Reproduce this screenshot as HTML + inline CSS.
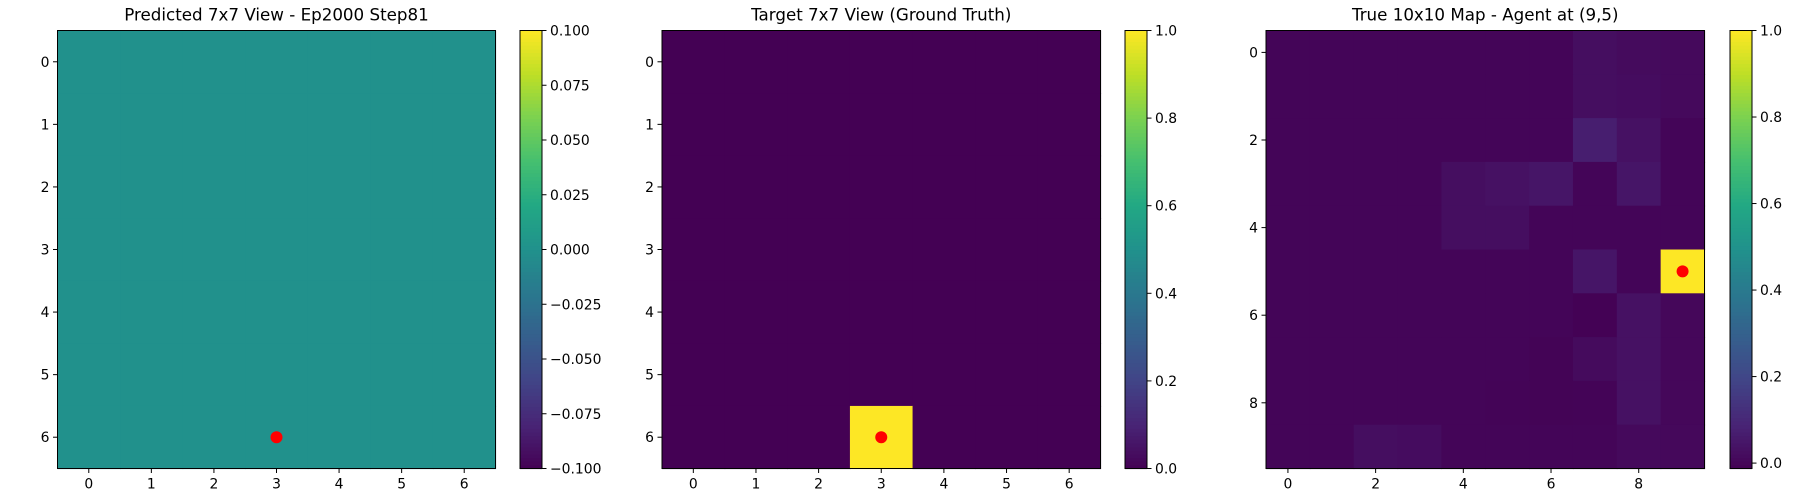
<!DOCTYPE html>
<html><head><meta charset="utf-8">
<style>
html,body{margin:0;padding:0;background:#fff;}
svg{display:block;font-family:"DejaVu Sans","Liberation Sans",sans-serif;}
</style></head>
<body>
<svg id="fig" width="1800" height="500" viewBox="0 0 1800 500" xmlns="http://www.w3.org/2000/svg"></svg>
<script>
// ---- data ----
const predGrid = [
 [0,0,0,0,0,0,0],[0,0,0,0,0,0,0],[0,0,0,0,0,0,0],[0,0,0,0,0,0,0],
 [0,0,0,0,0,0,0],[0,0,0,0,0,0,0],[0,0,0,0,0,0,0]];
const targetGrid = [
 [0,0,0,0,0,0,0],[0,0,0,0,0,0,0],[0,0,0,0,0,0,0],[0,0,0,0,0,0,0],
 [0,0,0,0,0,0,0],[0,0,0,0,0,0,0],[0,0,0,1,0,0,0]];
const trueMap = [
 [0,0,0,0,0,0,0,0.025,0.015,0.012],
 [0,0,0,0,0,0,0,0.025,0.02,0.012],
 [0,0,0,0,0,0,0,0.07,0.035,0],
 [0,0,0,0,0.025,0.035,0.045,0,0.045,0],
 [0,0,0,0,0.025,0.025,0,0,0,0],
 [0,0,0,0,0,0,0,0.045,0,1],
 [0,0,0,0,0,0,0,-0.01,0.035,0.005],
 [0,0,0,0,0,0,-0.005,0.015,0.035,0.005],
 [0,0,0,0,0,-0.003,-0.005,-0.003,0.035,0.005],
 [0,0,0.025,0.02,0,0,0,0,0.012,0.008]];
const predAgent = [3,6];
const targetAgent = [3,6];
const trueAgent = [9,5];
const predTitle = "Predicted 7x7 View - Ep2000 Step81";
const targetTitle = "Target 7x7 View (Ground Truth)";
const trueTitle = "True 10x10 Map - Agent at (9,5)";
const predCbTicks = [-0.1,-0.075,-0.05,-0.025,0,0.025,0.05,0.075,0.1];
const predCbLabels = ["\u22120.100","\u22120.075","\u22120.050","\u22120.025","0.000","0.025","0.050","0.075","0.100"];
const targetCbTicks = [0,0.2,0.4,0.6,0.8,1.0];
const targetCbLabels = ["0.0","0.2","0.4","0.6","0.8","1.0"];
const trueCbTicks = [0,0.2,0.4,0.6,0.8,1.0];
const trueCbLabels = ["0.0","0.2","0.4","0.6","0.8","1.0"];
const ticks7 = [0,1,2,3,4,5,6];
const ticks10 = [0,2,4,6,8];

// ---- helpers ----
const NS="http://www.w3.org/2000/svg";
const svg=document.getElementById('fig');
const VIR=["#440154","#482475","#414487","#355f8d","#2a788e","#21918c","#22a884","#44bf70","#7ad151","#bddf26","#fde725"];
function hex(h){return [1,3,5].map(i=>parseInt(h.substr(i,2),16));}
function viridis(t){t=Math.max(0,Math.min(1,t));const p=t*10,i=Math.min(9,Math.floor(p)),f=p-i;
 const a=hex(VIR[i]),b=hex(VIR[i+1]);return "rgb("+a.map((v,k)=>Math.round(v+(b[k]-v)*f)).join(",")+")";}
function mk(tag,attrs,parent){const e=document.createElementNS(NS,tag);for(const k in attrs)e.setAttribute(k,attrs[k]);(parent||svg).appendChild(e);return e;}

function panel(id,grid,agent,title,ax,cb,vmin,vmax,xt,cbT,cbL){
 const g=mk('g',{});
 
 
 const n=grid.length, w=ax.x1-ax.x0, h=ax.y1-ax.y0;
 const sx=v=>ax.x0+(v+0.5)/n*w, sy=v=>ax.y0+(v+0.5)/n*h;
 const cw=w/n, ch=h/n;
 grid.forEach((row,r)=>row.forEach((v,c)=>{
  const rc=mk('rect',{x:sx(c)-cw/2,y:sy(r)-ch/2,width:cw+0.6,height:ch+0.6,fill:viridis((v-vmin)/(vmax-vmin))},g);
  
  
 }));
 const dot=mk('circle',{cx:sx(agent[0]),cy:sy(agent[1]),r:6,fill:'#ff0000'},g);
 
 
 const fr=mk('rect',{x:ax.x0,y:ax.y0,width:w,height:h,fill:'none',stroke:'#000','stroke-width':1},g);
 
 
 xt.forEach(t=>{
  mk('line',{x1:sx(t),x2:sx(t),y1:ax.y1,y2:ax.y1+4.5,stroke:'#000','stroke-width':1},g);
  const tx=mk('text',{x:sx(t),y:ax.y1+20,'font-size':13.9,'text-anchor':'middle',fill:'#000'},g);tx.textContent=t;
  
  
  mk('line',{x1:ax.x0-4.5,x2:ax.x0,y1:sy(t),y2:sy(t),stroke:'#000','stroke-width':1},g);
  const ty=mk('text',{x:ax.x0-8,y:sy(t)+5,'font-size':13.9,'text-anchor':'end',fill:'#000'},g);ty.textContent=t;
  
  
 });
 const tt=mk('text',{x:(ax.x0+ax.x1)/2,y:ax.y0-10,'font-size':16.7,'text-anchor':'middle',fill:'#000'},g);tt.textContent=title;
 
 
 // colorbar
 const cbh=cb.y1-cb.y0, steps=120;
 const cy=v=>cb.y1-(v-vmin)/(vmax-vmin)*cbh;
 for(let i=0;i<steps;i++){
  mk('rect',{x:cb.x0,y:cb.y1-(i+1)*cbh/steps,width:cb.x1-cb.x0,height:cbh/steps+0.6,fill:viridis((i+0.5)/steps)},g);
 }
 const cf=mk('rect',{x:cb.x0,y:cb.y0,width:cb.x1-cb.x0,height:cbh,fill:'none',stroke:'#000','stroke-width':1},g);
 
 
 cbT.forEach((t,i)=>{
  const y=cy(t);
  mk('line',{x1:cb.x1,x2:cb.x1+4.5,y1:y,y2:y,stroke:'#000','stroke-width':1},g);
  const l=mk('text',{x:cb.x1+8,y:y+5,'font-size':13.9,fill:'#000'},g);l.textContent=cbL[i];
  
  
 });
}
panel('predicted',predGrid,predAgent,predTitle,{x0:57.5,x1:495.5,y0:30.5,y1:468.5},{x0:520,x1:542,y0:30.5,y1:468.5},-0.1,0.1,ticks7,predCbTicks,predCbLabels);
panel('target',targetGrid,targetAgent,targetTitle,{x0:662,x1:1100.5,y0:30.5,y1:468.5},{x0:1125,x1:1147,y0:30.5,y1:468.5},0,1,ticks7,targetCbTicks,targetCbLabels);
panel('true-map',trueMap,trueAgent,trueTitle,{x0:1266,x1:1704.5,y0:30.5,y1:468.5},{x0:1730,x1:1752,y0:30.5,y1:468.5},-0.0125,1,ticks10,trueCbTicks,trueCbLabels);
</script>
</body></html>
